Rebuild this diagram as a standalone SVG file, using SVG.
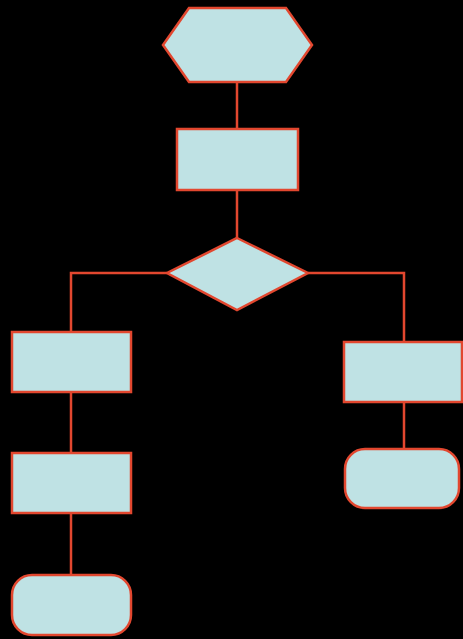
<svg xmlns="http://www.w3.org/2000/svg" width="463" height="639" viewBox="0 0 463 639">
<style>
.n{fill:#bfe2e4;stroke:#e2472f;stroke-width:2.5}
.c{fill:none;stroke:#e2472f;stroke-width:2.5}
</style>
<rect x="0" y="0" width="463" height="639" fill="#000"/>
<g id="connectors">
<path class="c" d="M237,82 V129"/>
<path class="c" d="M237,190 V238"/>
<path class="c" d="M167,273 H71 V332"/>
<path class="c" d="M308,273 H404 V342"/>
<path class="c" d="M71,392 V453"/>
<path class="c" d="M71,513 V575"/>
<path class="c" d="M404,402 V449"/>
</g>
<g id="start"><polygon class="n" points="163,45 189,8 286,8 312,45 286,82 189,82"/></g>
<g id="step1"><rect class="n" x="177" y="129" width="121" height="61"/></g>
<g id="decision"><polygon class="n" points="237,238 308,273 237,310 167,273"/></g>
<g id="left1"><rect class="n" x="12" y="332" width="119" height="60"/></g>
<g id="left2"><rect class="n" x="12" y="453" width="119" height="60"/></g>
<g id="leftEnd"><rect class="n" x="12" y="575" width="119" height="60" rx="20" ry="20"/></g>
<g id="right1"><rect class="n" x="344" y="342" width="118" height="60"/></g>
<g id="rightEnd"><rect class="n" x="345" y="449" width="114" height="59" rx="20" ry="20"/></g>
</svg>
